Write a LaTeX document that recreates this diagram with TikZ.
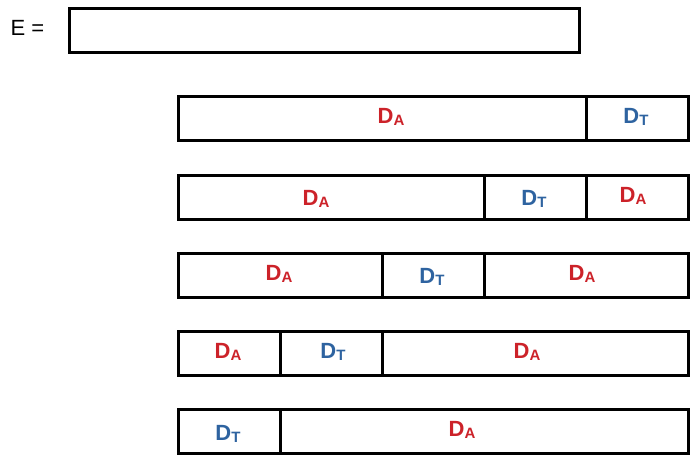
\documentclass[tikz,border=0pt]{standalone}
\usepackage{fontspec}
\setmainfont{Liberation Sans}
\definecolor{dared}{RGB}{204,34,41}
\definecolor{dtblue}{RGB}{46,99,160}
\newcommand{\lowidx}[1]{\raisebox{-0.22ex}{\fontsize{15}{15}\selectfont #1}}
\newcommand{\DA}{\textcolor{dared}{D\lowidx{A}}}
\newcommand{\DT}{\textcolor{dtblue}{D\lowidx{T}}}
\begin{document}
\begin{tikzpicture}[x=1pt, y=-1pt,
  seg/.style={draw, line width=3pt, minimum height=44pt, inner sep=0pt, outer sep=0pt, anchor=north west},
  lbl/.style={font=\fontsize{22}{22}\selectfont\bfseries, inner sep=0pt}]
\useasboundingbox (0,0) rectangle (697,464);
%vector E
\node[font=\fontsize{22}{22}\selectfont, anchor=west] (elbl) at (7,28) {E =};
\node[seg, minimum width=510pt] (ebox) at (69,8) {};
%row 1
\node[seg, minimum width=408pt] (r1a) at (178,96) {};
\node[seg, minimum width=102pt] (r1b) at (586,96) {};
\node[lbl] (r1al) at (391,117) {\DA};
\node[lbl] (r1bl) at (636,117) {\DT};
%row 2
\node[seg, minimum width=306pt] (r2a) at (178,175) {};
\node[seg, minimum width=102pt] (r2b) at (484,175) {};
\node[seg, minimum width=102pt] (r2c) at (586,175) {};
\node[lbl] (r2al) at (316,199) {\DA};
\node[lbl] (r2bl) at (534,199) {\DT};
\node[lbl] (r2cl) at (633,196) {\DA};
%row 3
\node[seg, minimum width=204pt] (r3a) at (178,253) {};
\node[seg, minimum width=102pt] (r3b) at (382,253) {};
\node[seg, minimum width=204pt] (r3c) at (484,253) {};
\node[lbl] (r3al) at (279,274) {\DA};
\node[lbl] (r3bl) at (432,277) {\DT};
\node[lbl] (r3cl) at (582,274) {\DA};
%row 4
\node[seg, minimum width=102pt] (r4a) at (178,331) {};
\node[seg, minimum width=102pt] (r4b) at (280,331) {};
\node[seg, minimum width=306pt] (r4c) at (382,331) {};
\node[lbl] (r4al) at (228,352) {\DA};
\node[lbl] (r4bl) at (333,352) {\DT};
\node[lbl] (r4cl) at (527,352) {\DA};
%row 5
\node[seg, minimum width=102pt] (r5a) at (178,409) {};
\node[seg, minimum width=408pt] (r5b) at (280,409) {};
\node[lbl] (r5al) at (228,434) {\DT};
\node[lbl] (r5bl) at (462,430) {\DA};
\end{tikzpicture}
\end{document}
